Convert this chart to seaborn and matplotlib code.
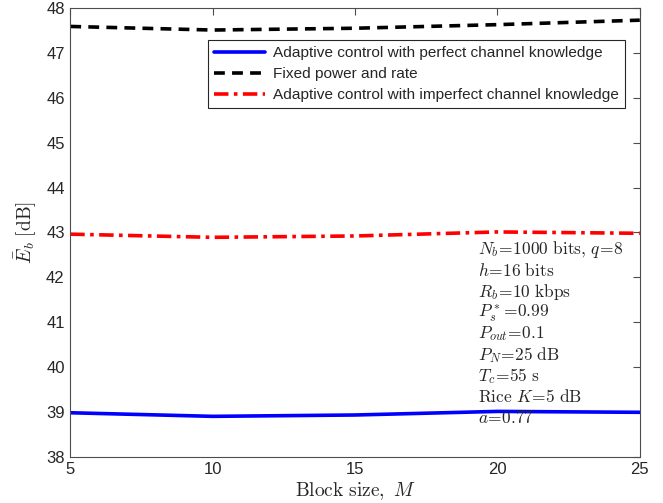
import numpy as np
import pandas as pd
import matplotlib
matplotlib.use("Agg")
import matplotlib.pyplot as plt
import seaborn as sns

block_size = [5, 10, 15, 20, 25]
eb_perfect = [38.98, 38.90, 38.93, 39.01, 38.99]
eb_fixed = [47.59, 47.51, 47.55, 47.63, 47.73]
eb_imperfect = [42.96, 42.89, 42.92, 43.01, 42.98]

series_names = [
    "Adaptive control with perfect channel knowledge",
    "Fixed power and rate",
    "Adaptive control with imperfect channel knowledge",
]

params = [
    r"$N_b\!=\!1000\ \mathrm{bits},\, q\!=\!8$",
    r"$h\!=\!16\ \mathrm{bits}$",
    r"$R_b\!=\!10\ \mathrm{kbps}$",
    r"$P_s^*\!=\!0.99$",
    r"$P_{out}\!=\!0.1$",
    r"$P_N\!=\!25\ \mathrm{dB}$",
    r"$T_c\!=\!55\ \mathrm{s}$",
    r"$\mathrm{Rice}\ K\!=\!5\ \mathrm{dB}$",
    r"$a\!=\!0.77$",
]

df = pd.DataFrame({
    "M": block_size * 3,
    "Eb": eb_perfect + eb_fixed + eb_imperfect,
    "series": np.repeat(series_names, len(block_size)),
})

sns.set_theme(style="white")
plt.rcParams["font.family"] = ["Liberation Sans", "DejaVu Sans"]
plt.rcParams["mathtext.fontset"] = "cm"
plt.rcParams["xtick.direction"] = "in"
plt.rcParams["ytick.direction"] = "in"

fig = plt.figure(figsize=(6.63, 5.03), dpi=100)
ax = fig.add_axes([0.106, 0.092, 0.859, 0.892])

palette = {series_names[0]: "#0000ff", series_names[1]: "#000000", series_names[2]: "#ff0000"}
dashes = {series_names[0]: "", series_names[1]: (3, 2), series_names[2]: (4, 1.5, 1, 1.5)}
sns.lineplot(data=df, x="M", y="Eb", hue="series", style="series",
             palette=palette, dashes=dashes, linewidth=2.6, ax=ax)

ax.set_xlim(5, 25)
ax.set_ylim(38, 48)
ax.set_xticks([5, 10, 15, 20, 25])
ax.set_yticks(range(38, 49))
ax.tick_params(axis="both", labelsize=12, labelcolor="#262626", color="#4d4d4d",
               length=5, width=0.8, top=True, right=True, pad=4)
for s in ax.spines.values():
    s.set_color("#4d4d4d")
    s.set_linewidth(0.8)

ax.set_xlabel(r"$\mathrm{Block\ size,}\ M$", fontsize=14, color="#262626", labelpad=2)
ax.set_ylabel(r"$\bar{E}_b\ [\mathrm{dB}]$", fontsize=14, color="#262626", labelpad=6)

leg = ax.legend(loc="upper right", bbox_to_anchor=(0.974, 0.929), borderaxespad=0,
                fontsize=11.1, frameon=True, fancybox=False, edgecolor="#262626",
                framealpha=1, handlelength=3.3, borderpad=0.4, labelspacing=0.45,
                handletextpad=0.5)
leg.get_frame().set_linewidth(0.8)
leg.set_title(None)

for i, p in enumerate(params):
    ax.text(0.716, 0.461 - i * 0.0468, p, transform=ax.transAxes, fontsize=12.5,
            color="#262626", va="center", ha="left")

fig.savefig("out.png", dpi=100)
